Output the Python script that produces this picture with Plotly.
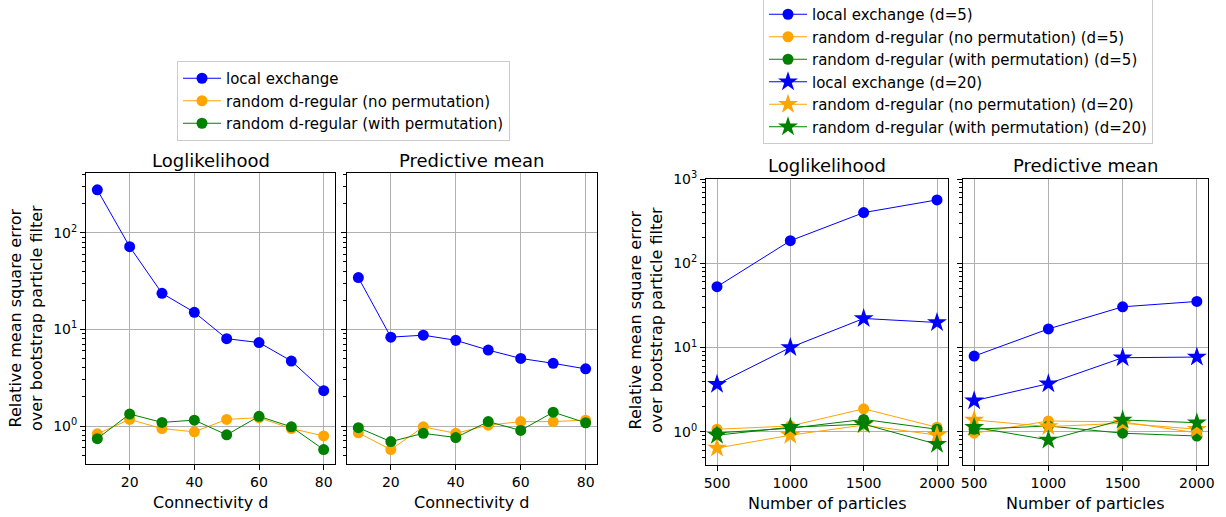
import plotly.graph_objects as go

# ---------------- data ----------------
connectivity = [10, 20, 30, 40, 50, 60, 70, 80]
ll_local = [277, 71.6, 23.6, 15.0, 8.0, 7.3, 4.7, 2.32]
ll_noperm = [0.83, 1.17, 0.94, 0.87, 1.17, 1.22, 0.94, 0.79]
ll_perm = [0.74, 1.33, 1.09, 1.15, 0.81, 1.26, 0.98, 0.57]
pm_local = [34.3, 8.3, 8.7, 7.7, 6.1, 5.0, 4.45, 3.9]
pm_noperm = [0.85, 0.57, 0.98, 0.84, 1.02, 1.11, 1.11, 1.15]
pm_perm = [0.96, 0.69, 0.84, 0.76, 1.11, 0.90, 1.39, 1.08]

particles = [500, 1000, 1500, 2000]
ll_local_d5 = [52.7, 185, 399, 565]
ll_noperm_d5 = [1.07, 1.17, 1.87, 1.13]
ll_perm_d5 = [0.97, 1.10, 1.40, 1.07]
ll_local_d20 = [3.66, 10.0, 22.1, 19.8]
ll_noperm_d20 = [0.64, 0.91, 1.20, 0.91]
ll_perm_d20 = [0.91, 1.13, 1.23, 0.71]
pm_local_d5 = [7.9, 16.6, 30.4, 35.2]
pm_noperm_d5 = [0.96, 1.34, 1.31, 0.97]
pm_perm_d5 = [1.07, 1.17, 0.96, 0.89]
pm_local_d20 = [2.33, 3.72, 7.56, 7.7]
pm_noperm_d20 = [1.38, 1.15, 1.26, 1.07]
pm_perm_d20 = [1.13, 0.80, 1.38, 1.28]

names = ["local exchange", "random d-regular (no permutation)", "random d-regular (with permutation)"]
colors = ["blue", "orange", "green"]
panel_titles = ["Loglikelihood", "Predictive mean"]
ylabel = "Relative mean square error<br>over bootstrap particle filter"
xlabel_left = "Connectivity d"
xlabel_right = "Number of particles"

W, H = 1226, 517
FONT = "DejaVu Sans"

def px(x):
    return x / W

def py(y):
    return 1 - y / H

fig = go.Figure()

def add(x, y, name, color, xa, ya, symbol, size, legend, show):
    fig.add_trace(go.Scatter(
        x=x, y=y, mode="lines+markers", name=name,
        line=dict(color=color, width=1),
        marker=dict(color=color, symbol=symbol, size=size, line=dict(width=0)),
        xaxis=xa, yaxis=ya, legend=legend, showlegend=show))

left_sets = [
    ("x", "y", [ll_local, ll_noperm, ll_perm], True),
    ("x2", "y2", [pm_local, pm_noperm, pm_perm], False),
]
for xa, ya, series, show in left_sets:
    for s, n, c in zip(series, names, colors):
        add(connectivity, s, n, c, xa, ya, "circle", 11, "legend", show)

right_sets = [
    ("x3", "y3", [ll_local_d5, ll_noperm_d5, ll_perm_d5], [ll_local_d20, ll_noperm_d20, ll_perm_d20], True),
    ("x4", "y4", [pm_local_d5, pm_noperm_d5, pm_perm_d5], [pm_local_d20, pm_noperm_d20, pm_perm_d20], False),
]
for xa, ya, s5, s20, show in right_sets:
    for s, n, c in zip(s5, names, colors):
        add(particles, s, n + " (d=5)", c, xa, ya, "circle", 11, "legend2", show)
    for s, n, c in zip(s20, names, colors):
        add(particles, s, n + " (d=20)", c, xa, ya, "star", 15, "legend2", show)

grid = "#b0b0b0"

def xaxis(dom, rng, tickvals, anchor):
    return dict(domain=[px(dom[0]), px(dom[1])], range=rng, anchor=anchor,
                tickvals=tickvals, ticks="outside", ticklen=5, tickwidth=1, tickcolor="black",
                showline=True, mirror=True, linecolor="black", linewidth=1,
                showgrid=True, gridcolor=grid, gridwidth=0.8, zeroline=False, automargin=False,
                tickfont=dict(family=FONT, size=14, color="black"))

def yaxis(dom, rng, anchor, labels):
    return dict(domain=[py(dom[1]), py(dom[0])], type="log", range=rng, anchor=anchor,
                tickvals=[1, 10, 100, 1000],
                ticktext=["10<sup>0</sup>", "10<sup>1</sup>", "10<sup>2</sup>", "10<sup>3</sup>"],
                showticklabels=labels,
                ticks="outside", ticklen=5, tickwidth=1, tickcolor="black",
                minor=dict(ticks="outside", ticklen=3, tickwidth=0.8, tickcolor="black",
                           dtick="D1", showgrid=False),
                showline=True, mirror=True, linecolor="black", linewidth=1,
                showgrid=True, gridcolor=grid, gridwidth=0.8, zeroline=False, automargin=False,
                tickfont=dict(family=FONT, size=14, color="black"))

yl = [-0.393, 2.617]
yr = [-0.395, 3.0]
fig.update_layout(
    width=W, height=H, margin=dict(l=0, r=0, t=0, b=0, pad=0, autoexpand=False),
    paper_bgcolor="white", plot_bgcolor="white",
    font=dict(family=FONT, color="black"),
    xaxis=xaxis((86, 335), [6.5, 83.5], [20, 40, 60, 80], "y"),
    xaxis2=xaxis((347, 597), [6.5, 83.5], [20, 40, 60, 80], "y2"),
    xaxis3=xaxis((706, 948), [425, 2075], [500, 1000, 1500, 2000], "y3"),
    xaxis4=xaxis((963, 1208), [425, 2075], [500, 1000, 1500, 2000], "y4"),
    yaxis=yaxis((173, 464), yl, "x", True),
    yaxis2=yaxis((173, 464), yl, "x2", False),
    yaxis3=yaxis((179, 465), yr, "x3", True),
    yaxis4=yaxis((179, 465), yr, "x4", False),
    legend=dict(x=px(177), y=py(61), xanchor="left", yanchor="top", itemwidth=38,
                bordercolor="#cccccc", borderwidth=1, bgcolor="white",
                font=dict(family=FONT, size=15, color="black"), tracegroupgap=0),
    legend2=dict(x=px(763), y=py(-3), xanchor="left", yanchor="top", itemwidth=38,
                 bordercolor="#cccccc", borderwidth=1, bgcolor="white",
                 font=dict(family=FONT, size=15, color="black"), tracegroupgap=0),
)

ann = []
title_pos = [((86, 335), 160), ((347, 597), 160), ((706, 948), 165), ((963, 1208), 165)]
for i, ((x0, x1), yc) in enumerate(title_pos):
    ann.append(dict(text=panel_titles[i % 2], x=px((x0 + x1) / 2), y=py(yc), xref="paper", yref="paper",
                    showarrow=False, xanchor="center", yanchor="middle",
                    font=dict(family=FONT, size=18, color="black")))
xl_pos = [((86, 335), 502, xlabel_left), ((347, 597), 502, xlabel_left),
          ((706, 948), 503, xlabel_right), ((963, 1208), 503, xlabel_right)]
for (x0, x1), yc, t in xl_pos:
    ann.append(dict(text=t, x=px((x0 + x1) / 2), y=py(yc), xref="paper", yref="paper",
                    showarrow=False, xanchor="center", yanchor="middle",
                    font=dict(family=FONT, size=16, color="black")))
for xc, yc in [(26, 318), (646, 320)]:
    ann.append(dict(text=ylabel, x=px(xc), y=py(yc), xref="paper", yref="paper",
                    showarrow=False, xanchor="center", yanchor="middle", textangle=-90,
                    font=dict(family=FONT, size=16, color="black")))
fig.update_layout(annotations=ann)

fig.write_html("out.html", config={"displayModeBar": False},
               post_script="document.body.style.margin='0';document.body.style.overflow='hidden';")
